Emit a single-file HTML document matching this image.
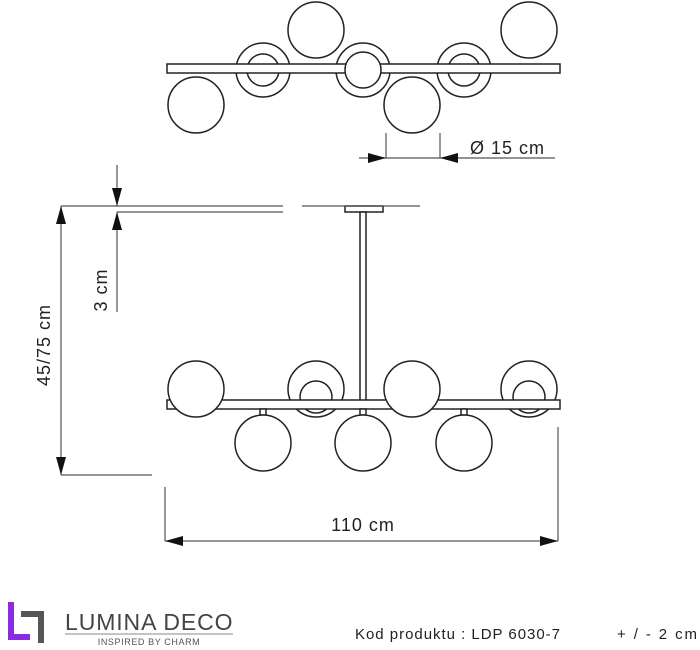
<!DOCTYPE html>
<html><head><style>
body{margin:0;background:#fff;}
svg{display:block;font-family:"Liberation Sans",sans-serif;}
</style></head><body>
<svg width="700" height="650" viewBox="0 0 700 650" xmlns="http://www.w3.org/2000/svg">
<g fill="#fff" stroke="#222" stroke-width="1.5">
<circle cx="316" cy="30" r="28"/>
<circle cx="529" cy="30" r="28"/>
<circle cx="263" cy="70" r="27"/><circle cx="263" cy="70" r="16"/>
<circle cx="363" cy="70" r="27"/>
<circle cx="464" cy="70" r="27"/><circle cx="464" cy="70" r="16"/>
<rect x="167" y="64" width="393" height="9"/>
<circle cx="363" cy="70" r="18"/>
<circle cx="196" cy="105" r="28"/>
<circle cx="412" cy="105" r="28"/>
<rect x="345" y="206" width="38" height="6"/>
<rect x="360" y="212" width="6" height="190"/>
<circle cx="316" cy="389" r="28"/><circle cx="316" cy="397" r="16"/>
<circle cx="529" cy="389" r="28"/><circle cx="529" cy="397" r="16"/>
<rect x="167" y="400" width="393" height="9"/>
<circle cx="196" cy="389" r="28"/>
<circle cx="412" cy="389" r="28"/>
<rect x="260" y="409" width="6" height="6"/>
<rect x="360" y="409" width="6" height="6"/>
<rect x="461" y="409" width="6" height="6"/>
<circle cx="263" cy="443" r="28"/>
<circle cx="363" cy="443" r="28"/>
<circle cx="464" cy="443" r="28"/>
</g>
<g stroke="#555" stroke-width="1.2" fill="none">
<line x1="386" y1="133" x2="386" y2="158"/><line x1="440" y1="133" x2="440" y2="158"/>
<line x1="359" y1="158" x2="555" y2="158"/>
<line x1="61" y1="206" x2="283" y2="206"/><line x1="117" y1="212" x2="283" y2="212"/>
<line x1="302" y1="206" x2="420" y2="206"/>
<line x1="61" y1="206" x2="61" y2="475"/><line x1="61" y1="475" x2="152" y2="475"/>
<line x1="117" y1="165" x2="117" y2="206"/><line x1="117" y1="212" x2="117" y2="312"/>
<line x1="165" y1="487" x2="165" y2="541"/><line x1="558" y1="427" x2="558" y2="541"/>
<line x1="165" y1="541" x2="558" y2="541"/>
</g>
<g fill="#111">
<polygon points="386,158 368,153 368,163"/><polygon points="440,158 458,153 458,163"/>
<polygon points="117,206 112,188 122,188"/><polygon points="117,212 112,230 122,230"/>
<polygon points="61,206 56,224 66,224"/><polygon points="61,475 56,457 66,457"/>
<polygon points="165,541 183,536 183,546"/><polygon points="558,541 540,536 540,546"/>
</g>
<g fill="#222" font-size="18">
<text x="470" y="154" letter-spacing="1">Ø 15 cm</text>
<text x="363" y="531" text-anchor="middle" letter-spacing="1">110 cm</text>
<text transform="translate(107,290) rotate(-90)" text-anchor="middle" letter-spacing="1">3 cm</text>
<text transform="translate(50,345) rotate(-90)" text-anchor="middle" letter-spacing="1">45/75 cm</text>
</g>
<path d="M11 602 V637 H30" stroke="#8a2be2" stroke-width="6" fill="none"/>
<path d="M21 614 H41 V643" stroke="#555" stroke-width="6" fill="none"/>
<text x="65" y="630" font-size="23" fill="#444" letter-spacing="0.5" textLength="168">LUMINA DECO</text>
<line x1="65" y1="634" x2="233" y2="634" stroke="#888" stroke-width="1"/>
<text x="149" y="645" font-size="9" fill="#555" text-anchor="middle" letter-spacing="0.6">INSPIRED BY CHARM</text>
<text x="355" y="639" font-size="15" fill="#222" textLength="205">Kod produktu : LDP 6030-7</text>
<text x="617" y="639" font-size="15" fill="#222" textLength="80">+ / - 2 cm</text>
</svg>
</body></html>
